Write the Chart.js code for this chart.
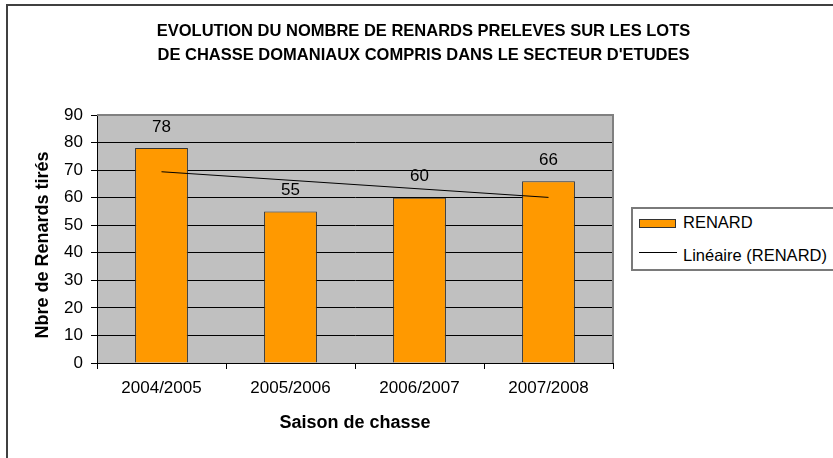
<!DOCTYPE html>
<html>
<head>
<meta charset="utf-8">
<script src="https://cdn.jsdelivr.net/npm/chart.js@4/dist/chart.umd.min.js"></script>
<style>
  html, body { margin: 0; padding: 0; background: #fff; overflow: hidden; }
  #wrap { position: relative; width: 833px; height: 458px; }
  #frame { position: absolute; left: 6px; top: 4px; width: 900px; height: 600px; border: 2px solid #404040; }
  #legend { position: absolute; left: 631px; top: 207px; width: 220px; height: 60px; border: 2px solid #7a7a7a; background: #fff;
            font-family: "Liberation Sans", Arial, sans-serif; font-size: 16.5px; line-height: 20px; color: #000; }
  .sw { position: absolute; left: 6px; top: 10px; width: 35px; height: 7px; background: #ff9900; border: 1px solid #333; }
  .ln { position: absolute; left: 6px; top: 43px; width: 38px; height: 1px; background: #000; }
  .tx { position: absolute; left: 50px; white-space: nowrap; }
</style>
</head>
<body>
<div id="wrap">
  <div id="frame"></div>
  <canvas id="myChart" width="833" height="458" style="position:absolute;left:0;top:0;"></canvas>
  <div id="legend">
    <div class="sw"></div><div class="tx" style="top:3px;">RENARD</div>
    <div class="ln"></div><div class="tx" style="top:36px;">Linéaire (RENARD)</div>
  </div>
</div>
<script>
const seasons = ['2004/2005', '2005/2006', '2006/2007', '2007/2008'];
const renards = [78, 55, 60, 66];
// trend line at first and last season
const trend = [69.4, null, null, 60.1];
const titleLines = ['EVOLUTION DU NOMBRE DE RENARDS PRELEVES SUR LES LOTS',
                    'DE CHASSE DOMANIAUX COMPRIS DANS LE SECTEUR D\'ETUDES'];
const yTitle = 'Nbre de Renards tirés';
const xTitle = 'Saison de chasse';

const FONT = '"Liberation Sans", Arial, sans-serif';

const plotBg = {
    id: 'plotBg',
    beforeDraw(chart) {
        const a = chart.chartArea, c = chart.ctx;
        c.save();
        c.fillStyle = '#c0c0c0';
        c.fillRect(a.left, a.top, a.right - a.left, a.bottom - a.top);
        c.restore();
    },
    afterDatasetsDraw(chart) {
        const a = chart.chartArea, c = chart.ctx;
        c.save();
        c.strokeStyle = '#808080';
        c.lineWidth = 2;
        c.beginPath();
        c.moveTo(a.left, a.top);
        c.lineTo(a.right, a.top);
        c.lineTo(a.right, a.bottom);
        c.stroke();
        // value labels above bars
        const meta = chart.getDatasetMeta(0);
        c.fillStyle = '#000';
        c.font = '17px ' + FONT;
        c.textAlign = 'center';
        c.textBaseline = 'middle';
        meta.data.forEach((bar, i) => {
            c.fillText(renards[i], bar.x, bar.y - 21);
        });
        // y axis title, sits a little below the plot centre like the original
        c.font = 'bold 18px ' + FONT;
        c.translate(43, (a.top + a.bottom) / 2 + 6);
        c.rotate(-Math.PI / 2);
        c.fillText(yTitle, 0, 0);
        c.restore();
    }
};

let ctx = document.getElementById('myChart').getContext('2d');
let chart = new Chart(ctx, {
    type: 'bar',
    data: {
        labels: seasons,
        datasets: [{
            label: 'RENARD',
            data: renards,
            backgroundColor: '#ff9900',
            borderColor: '#333333',
            borderWidth: 1,
            categoryPercentage: 1,
            barPercentage: 0.41,
            order: 2
        }, {
            type: 'line',
            label: 'Linéaire (RENARD)',
            data: trend,
            spanGaps: true,
            borderColor: '#000',
            borderWidth: 1,
            pointRadius: 0,
            fill: false,
            order: 1
        }]
    },
    options: {
        responsive: false,
        animation: false,
        layout: { padding: { left: 14, right: 0, top: 0, bottom: 0 } },
        plugins: {
            legend: { display: false },
            tooltip: { enabled: false },
            title: {
                display: true,
                text: titleLines,
                color: '#000',
                font: { family: FONT, size: 16.5, weight: 'bold', lineHeight: 24 / 16.5 },
                padding: { top: 19, bottom: 48 }
            }
        },
        scales: {
            x: {
                afterFit: s => { s.height = 95; },
                grid: { display: true, drawOnChartArea: false, drawTicks: true, tickLength: 6, tickColor: '#000', offset: true },
                border: { display: true, color: '#000', width: 1 },
                ticks: { color: '#000', padding: 9, font: { family: FONT, size: 17 } },
                title: {
                    display: true,
                    text: xTitle,
                    color: '#000',
                    font: { family: FONT, size: 18, weight: 'bold' },
                    padding: { top: 0, bottom: 24 }
                }
            },
            y: {
                min: 0,
                max: 90,
                afterFit: s => { s.width = 83; },
                grid: {
                    color: c => (c.tick && c.tick.value === 90 ? '#808080' : '#000'),
                    tickColor: '#000',
                    tickLength: 6,
                    lineWidth: 1
                },
                border: { display: true, color: '#000', width: 1 },
                ticks: { stepSize: 10, color: '#000', padding: 8, font: { family: FONT, size: 17 } }
            },
            // empty right-hand box that keeps room for the legend
            yRight: {
                position: 'right',
                min: 0,
                max: 90,
                afterFit: s => { s.width = 220; },
                grid: { display: false, drawTicks: false },
                border: { display: false },
                ticks: { display: false }
            }
        }
    },
    plugins: [plotBg]
});
</script>
</body>
</html>
